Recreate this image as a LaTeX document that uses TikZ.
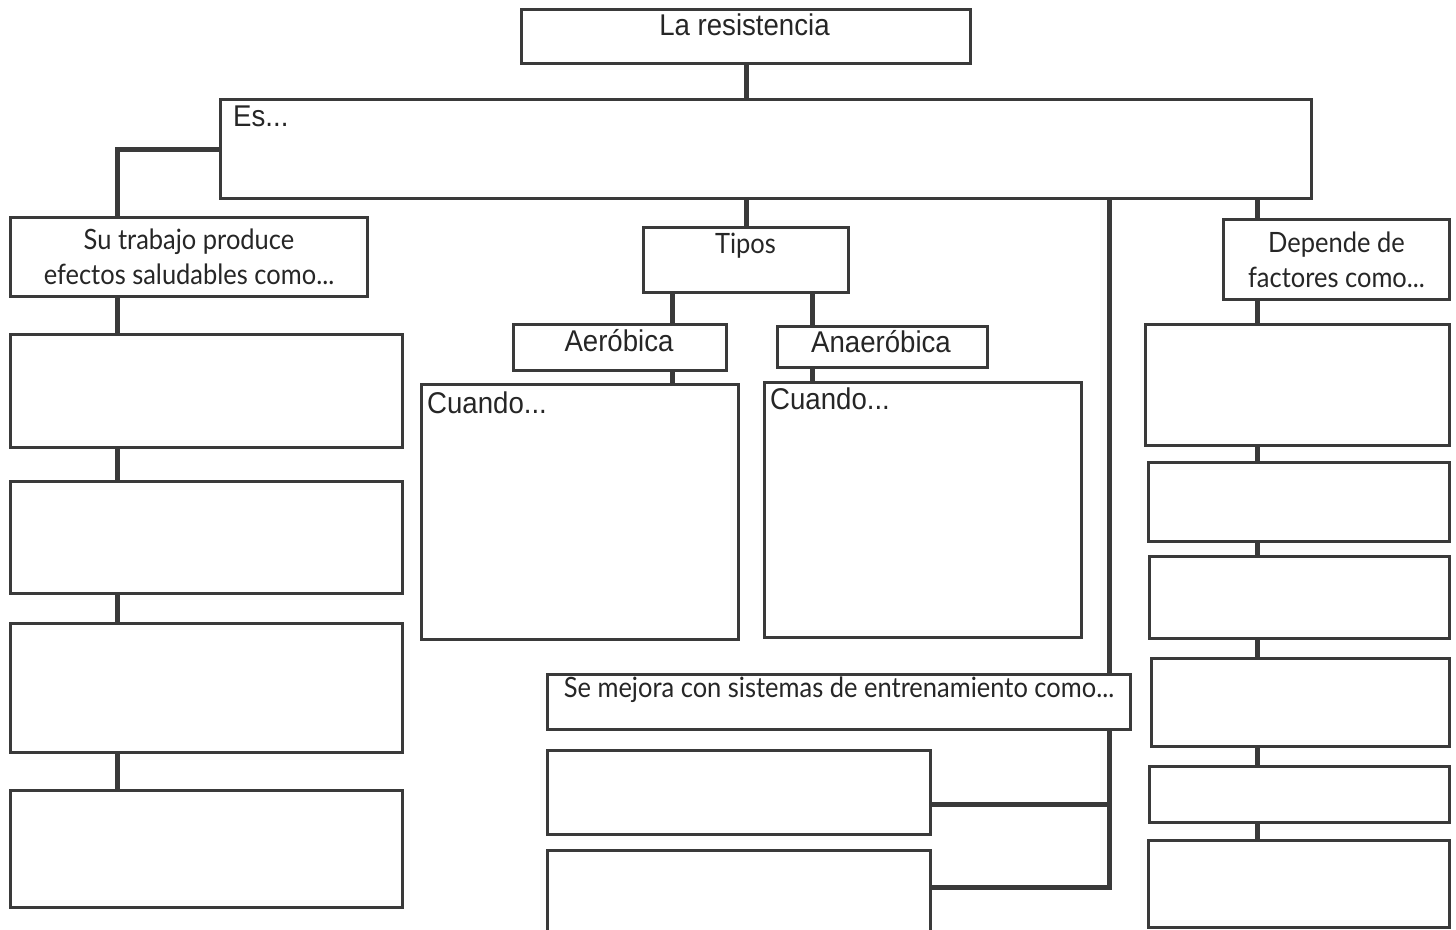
\documentclass[tikz,border=0pt]{standalone}
\usepackage{fontspec}
\usepackage{tikz}
\usetikzlibrary{positioning}
\newfontfamily\arialfont[FakeStretch=0.92]{Liberation Sans}
\newfontfamily\gillfont[FakeStretch=0.91]{Lato}
\definecolor{ink}{HTML}{3A3A3A}

\begin{document}
\begin{tikzpicture}[x=1pt, y=-1pt,
    box/.style={draw=ink, line width=3pt, rectangle, inner sep=0pt, anchor=north west},
    link/.style={draw=ink, line width=5pt},
    atext/.style={inner sep=0pt, text=black!85, font=\arialfont\fontsize{30}{36}\selectfont},
    gtext/.style={inner sep=0pt, text=black!85, font=\gillfont\fontsize{28}{35}\selectfont}]
    \useasboundingbox (0,0) rectangle (1456,929);
    \clip (0,0) rectangle (1456,929);

    % top
    \node[box, minimum width=449pt, minimum height=54pt] (title) at (520,8) {};
    \node[atext, anchor=base] (titleT) at (744.5,35) {La resistencia};
    \node[box, minimum width=1091pt, minimum height=99pt] (es) at (219,98) {};
    \node[atext, anchor=base west] (esT) at (233,126) {Es...};

    % left column
    \node[box, gtext, align=center, minimum width=357pt, minimum height=79pt] (trabajo) at (9,216) {Su trabajo produce\\efectos saludables como...};
    \node[box, minimum width=392pt, minimum height=113pt] (efecto1) at (9,333) {};
    \node[box, minimum width=392pt, minimum height=112pt] (efecto2) at (9,480) {};
    \node[box, minimum width=392pt, minimum height=129pt] (efecto3) at (9,622) {};
    \node[box, minimum width=392pt, minimum height=117pt] (efecto4) at (9,789) {};

    % types
    \node[box, minimum width=205pt, minimum height=65pt] (tipos) at (642,226) {};
    \node[gtext, anchor=base] (tiposT) at (745.5,253) {Tipos};
    \node[box, minimum width=213pt, minimum height=46pt] (aero) at (512,323) {};
    \node[atext, anchor=base] (aeroT) at (619,351) {Aeróbica};
    \node[box, minimum width=210pt, minimum height=41pt] (anaero) at (776,325) {};
    \node[atext, anchor=base] (anaeroT) at (881,352) {Anaeróbica};
    \node[box, minimum width=317pt, minimum height=255pt] (cuando1) at (420,383) {};
    \node[atext, anchor=base west] (cuando1T) at (427,413) {Cuando...};
    \node[box, minimum width=317pt, minimum height=255pt] (cuando2) at (763,381) {};
    \node[atext, anchor=base west] (cuando2T) at (770,409) {Cuando...};

    % training
    \node[box, minimum width=583pt, minimum height=55pt] (mejora) at (546,673) {};
    \node[gtext, anchor=base] (mejoraT) at (839,697) {Se mejora con sistemas de entrenamiento como...};
    \node[box, minimum width=383pt, minimum height=84pt] (sistema1) at (546,749) {};
    \node[box, minimum width=383pt, minimum height=90pt] (sistema2) at (546,849) {};

    % right column
    \node[box, gtext, align=center, minimum width=226pt, minimum height=80pt] (depende) at (1222,218) {Depende de\\factores como...};
    \node[box, minimum width=304pt, minimum height=121pt] (factor1) at (1144,323) {};
    \node[box, minimum width=301pt, minimum height=79pt] (factor2) at (1147,461) {};
    \node[box, minimum width=300pt, minimum height=82pt] (factor3) at (1148,555) {};
    \node[box, minimum width=298pt, minimum height=88pt] (factor4) at (1150,657) {};
    \node[box, minimum width=300pt, minimum height=56pt] (factor5) at (1148,765) {};
    \node[box, minimum width=301pt, minimum height=87pt] (factor6) at (1147,839) {};

    \coordinate (lspine) at (117,0);
    \coordinate (tspine1) at (672,0);
    \coordinate (tspine2) at (812,0);
    \coordinate (mspine) at (1109,0);
    \coordinate (rspine) at (1257,0);
    \coordinate (j1) at (1109,804);
    \coordinate (j2) at (1109,887);

    \draw[link] (title.south) -- (title.south |- es.north);
    \draw[link] (es.west) -| (trabajo.north -| lspine);
    \draw[link] (trabajo.south -| lspine) -- (efecto1.north -| lspine);
    \draw[link] (efecto1.south -| lspine) -- (efecto2.north -| lspine);
    \draw[link] (efecto2.south -| lspine) -- (efecto3.north -| lspine);
    \draw[link] (efecto3.south -| lspine) -- (efecto4.north -| lspine);

    \draw[link] (tipos.north) -- (tipos.north |- es.south);
    \draw[link] (tipos.south -| tspine1) -- (aero.north -| tspine1);
    \draw[link] (aero.south -| tspine1) -- (cuando1.north -| tspine1);
    \draw[link] (tipos.south -| tspine2) -- (anaero.north -| tspine2);
    \draw[link] (anaero.south -| tspine2) -- (cuando2.north -| tspine2);

    \draw[link] (es.south -| mspine) -- (mejora.north -| mspine);
    \draw[link] (mejora.south -| mspine) -- (j2) -- (j2 -| sistema2.east);
    \draw[link] (j1) -- (j1 -| sistema1.east);

    \draw[link] (es.south -| rspine) -- (depende.north -| rspine);
    \draw[link] (depende.south -| rspine) -- (factor1.north -| rspine);
    \draw[link] (factor1.south -| rspine) -- (factor2.north -| rspine);
    \draw[link] (factor2.south -| rspine) -- (factor3.north -| rspine);
    \draw[link] (factor3.south -| rspine) -- (factor4.north -| rspine);
    \draw[link] (factor4.south -| rspine) -- (factor5.north -| rspine);
    \draw[link] (factor5.south -| rspine) -- (factor6.north -| rspine);
\end{tikzpicture}
\end{document}
